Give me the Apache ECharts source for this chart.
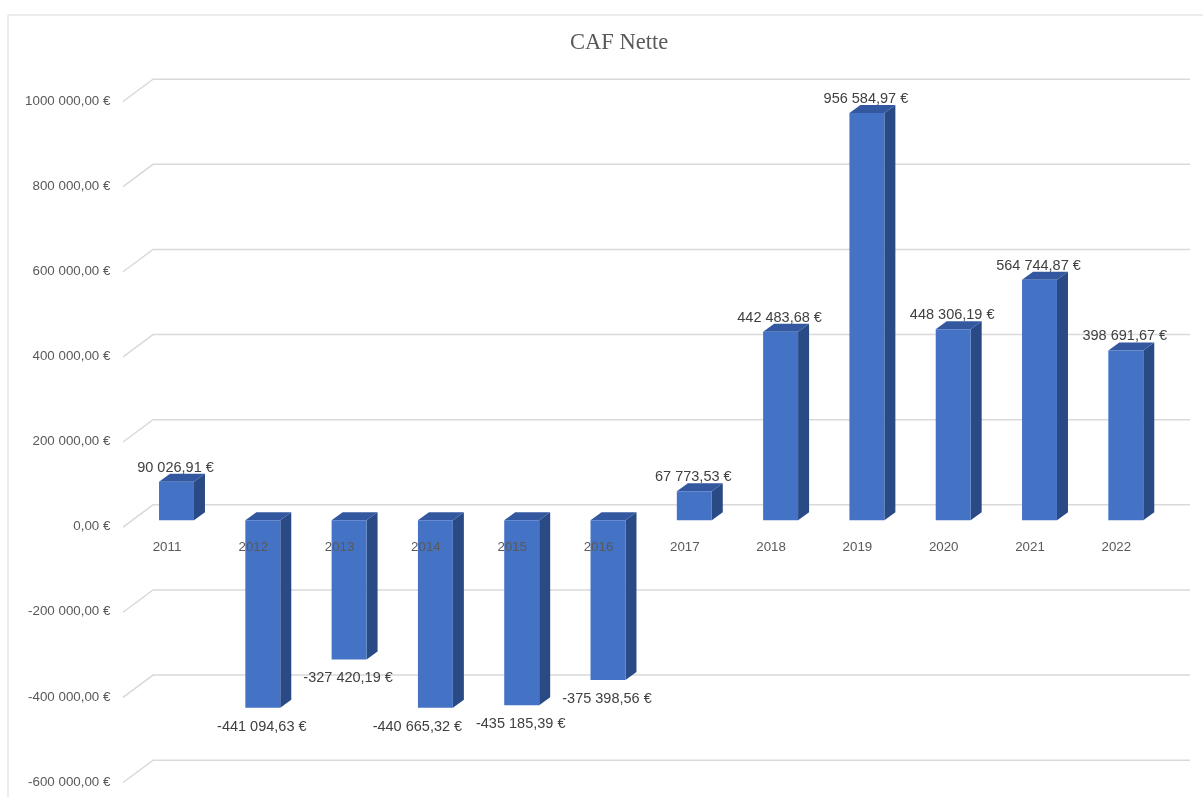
<!DOCTYPE html>
<html>
<head>
<meta charset="utf-8">
<script src="https://cdn.jsdelivr.net/npm/echarts@6/dist/echarts.min.js"></script>
<style>html,body{margin:0;padding:0;background:#fff;}#c{width:1203px;height:797px;}</style>
</head>
<body>
<div id="c"></div>
<script>
const categories = ['2011','2012','2013','2014','2015','2016','2017','2018','2019','2020','2021','2022'];
const cafNette = [90026.91, -441094.63, -327420.19, -440665.32, -435185.39, -375398.56, 67773.53, 442483.68, 956584.97, 448306.19, 564744.87, 398691.67];
const tickValues = [-600000, -400000, -200000, 0, 200000, 400000, 600000, 800000, 1000000];
const tickLabels = ['-600 000,00 €', '-400 000,00 €', '-200 000,00 €', '0,00 €', '200 000,00 €', '400 000,00 €', '600 000,00 €', '800 000,00 €', '1000 000,00 €'];

function fmtEuro(v) {
  const neg = v < 0;
  const a = Math.abs(v).toFixed(2).split('.');
  const ip = a[0].replace(/\B(?=(\d{3})+(?!\d))/g, ' ');
  return (neg ? '-' : '') + ip + ',' + a[1] + ' €';
}

// layout: horizontal nudge of overlapping value labels (by category index)
const labelNudge = { 3: -17 };
const DX = 11, DY = -8;
const GRID_TOP = 94.5, GRID_H = 681;
const chart = echarts.init(document.getElementById('c'));
chart.setOption({
  animation: false,
  title: {
    text: 'CAF Nette', left: 565, top: 27,
    textStyle: { fontFamily: 'Liberation Serif', fontSize: 22.5, fontWeight: 'normal', color: '#595959' }
  },
  graphic: [{
    type: 'rect', z: -10,
    shape: { x: 8, y: 15, width: 1210, height: 800 },
    style: { fill: 'none', stroke: '#d9d9d9', lineWidth: 1 }
  }],
  grid: { left: 133.35, width: 1035.6, top: GRID_TOP, height: GRID_H, containLabel: false, outerBoundsMode: 'none' },
  xAxis: {
    type: 'category', data: categories, z: 10,
    offset: -(GRID_H * 600000 / 1600000),
    axisLine: { show: false, onZero: false },
    axisTick: { show: false },
    axisLabel: { margin: 21, fontFamily: 'Liberation Sans', fontSize: 13.33, color: '#595959', padding: [0, 19, 0, 0] },
    splitLine: { show: false }
  },
  yAxis: {
    type: 'value', min: -600000, max: 1000000, interval: 200000,
    axisLine: { show: false }, axisTick: { show: false }, splitLine: { show: false },
    axisLabel: {
      margin: 23, fontFamily: 'Liberation Sans', fontSize: 13.33, color: '#595959',
      verticalAlign: 'top',
      formatter: function (v) { const i = tickValues.indexOf(v); return i >= 0 ? tickLabels[i] : ''; }
    }
  },
  series: [
    {
      type: 'custom', z: 1, clip: false, silent: true,
      data: tickValues.map(v => [0, v]),
      encode: { x: 0, y: 1 },
      renderItem: function (params, api) {
        const cs = params.coordSys;
        const y = api.coord([0, api.value(1)])[1];
        const x0 = cs.x;
        return {
          type: 'polyline',
          shape: { points: [[x0 - 10.3, y + 7], [x0 + 19.7, y - 15.3], [cs.x + cs.width + 21, y - 15.3]] },
          style: { stroke: '#d9d9d9', lineWidth: 1.5, fill: 'none' }
        };
      }
    },
    {
      type: 'custom', z: 2, clip: false,
      data: cafNette.map((v, i) => [i, v]),
      encode: { x: 0, y: 1 },
      renderItem: function (params, api) {
        const i = api.value(0), v = api.value(1);
        const p = api.coord([i, v]);
        const b = api.coord([i, 0]);
        const w = api.size([1, 0])[0] * 0.405;
        const xl = p[0] - w / 2, xr = p[0] + w / 2;
        const yt = Math.min(p[1], b[1]), yb = Math.max(p[1], b[1]);
        const nudge = labelNudge[i] || 0;
        const children = [
          { type: 'polygon', shape: { points: [[xr, yt], [xr + DX, yt + DY], [xr + DX, yb + DY], [xr, yb]] },
            style: { fill: '#294a85' } },
          { type: 'polygon', shape: { points: [[xl, yt], [xl + DX, yt + DY], [xr + DX, yt + DY], [xr, yt]] },
            style: { fill: '#3358a0' } },
          { type: 'rect', shape: { x: xl, y: yt, width: w, height: yb - yt },
            style: { fill: '#4472c4' } },
          { type: 'text', style: {
              text: fmtEuro(v), x: p[0] - 1 + nudge, y: v >= 0 ? yt - 14 : yb + 19,
              align: 'center', verticalAlign: 'middle',
              font: '14.5px "Liberation Sans"', fill: '#404040' } }
        ];
        return { type: 'group', children: children };
      }
    }
  ]
});
</script>
</body>
</html>
